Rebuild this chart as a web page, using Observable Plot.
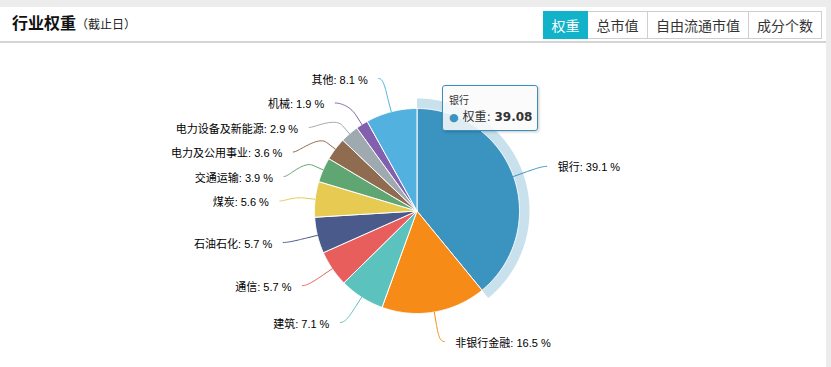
<!DOCTYPE html>
<html><head><meta charset="utf-8">
<script src="https://cdn.jsdelivr.net/npm/d3@7"></script>
<script src="https://cdn.jsdelivr.net/npm/@observablehq/plot@0.6"></script>
<style>
html,body{margin:0;padding:0;background:#ececec;width:831px;height:367px;overflow:hidden;font-family:"Noto Sans CJK SC",sans-serif}
#panel{position:absolute;left:0;top:7px;width:826px;height:360px;background:#fff}
#hdr{position:absolute;left:0;top:0;width:826px;height:34px;border-bottom:2px solid #d4d4d4}
#title{position:absolute;left:12px;top:1px;line-height:28px;white-space:nowrap;color:#111}
#title b{font-size:16px;font-weight:bold}
#title span{font-size:12px;color:#222}
#btns{position:absolute;left:543px;top:4px;display:flex;height:28px}
.btn{box-sizing:border-box;height:28px;line-height:26px;border:1px solid #cfcfcf;border-left:none;text-align:center;font-size:14px;color:#333;background:#fff}
.btn.on{background:#12b2c8;color:#fff;border-color:#12b2c8}
#chart{position:absolute;left:0;top:36px}
#tip{position:absolute;left:442px;top:78px;width:94px;height:44px;border:1px solid #3b8fbd;border-radius:3px;background:rgba(250,250,250,0.86);box-shadow:1px 1px 3px rgba(0,0,0,0.22);color:#333;font-family:"DejaVu Sans","Noto Sans CJK SC",sans-serif}
#tip .h{position:absolute;left:6px;top:8px;font-size:10px;line-height:14px}
#tip .b{position:absolute;left:6px;top:23px;font-size:12px;line-height:16px;white-space:nowrap}
#tip .b i{font-style:normal;font-size:11px;margin-right:4px}
.pl tspan.nm{font-weight:bold}
</style></head>
<body>
<div id="panel">
  <div id="hdr">
    <div id="title"><b>行业权重</b><span>（截止日）</span></div>
    <div id="btns"></div>
  </div>
  <div id="chart"></div>
  <div id="tip"></div>
</div>
<script>
// ---- data ----
const names = ["银行","非银行金融","建筑","通信","石油石化","煤炭","交通运输","电力及公用事业","电力设备及新能源","机械","其他"];
const weights = [39.08,16.48,7.1,5.7,5.7,5.6,3.9,3.6,2.9,1.9,8.08];
const colors = ["#3b93bf","#f68b17","#5cc2bd","#e85e5c","#4a5a8a","#e6ca52","#60a673","#8f6b4f","#9eaab0","#8360ae","#52b1de"];
const seriesName = "权重";
const tabs = ["权重","总市值","自由流通市值","成分个数"];
const tabWidths = [45,60,101,73];
const hovered = "银行";

// ---- header ----
const btns = document.getElementById("btns");
tabs.forEach((t,i)=>{
  const d = document.createElement("div");
  d.className = "btn" + (i===0 ? " on" : "");
  d.style.width = tabWidths[i] + "px";
  if (i===0) d.style.borderLeft = "1px solid #12b2c8";
  d.textContent = t;
  btns.appendChild(d);
});

// ---- geometry ----
const W = 826, H = 324, cx = 416.5, cy = 167.5;
const r = 102.5, dist = 30, R = r + dist, slotH = 24.5, haloSize = 10;
const data = names.map((n,i)=>({name:n, value:weights[i], color:colors[i]}));
const total = d3.sum(weights);
const arcs = d3.pie().sort(null).value(d=>d.value).startAngle(0).endAngle(2*Math.PI)(data);
const pt = (a, rad) => [Math.sin(a)*rad, -Math.cos(a)*rad];

function arcPts(a0, a1, rad){
  const n = Math.max(2, Math.ceil((a1-a0)/(Math.PI/360)));
  const out = [];
  for (let k=0;k<=n;k++) out.push(pt(a0+(a1-a0)*k/n, rad));
  return out;
}

const sliceRows = [];
arcs.forEach(a=>{
  const ps = [[0,0], ...arcPts(a.startAngle, a.endAngle, r), [0,0]];
  ps.forEach(p=>sliceRows.push({name:a.data.name, x:p[0], y:p[1]}));
});

const haloRows = [];
arcs.filter(a=>a.data.name===hovered).forEach(a=>{
  const outer = arcPts(a.startAngle, a.endAngle, r+haloSize);
  const inner = arcPts(a.startAngle, a.endAngle, r).reverse();
  [...outer, ...inner, outer[0]].forEach(p=>haloRows.push({name:a.data.name, x:p[0], y:p[1]}));
});

// label placement (slot distribution, as the original chart library does)
const labels = arcs.map(a=>{
  const mid = (a.startAngle + a.endAngle)/2;
  const side = mid > Math.PI ? -1 : 1;
  const nat = pt(mid, R);
  return {name:a.data.name, mid, side, natY:nat[1], pct: a.data.value/total*100};
});
[-1,1].forEach(side=>{
  const pts = labels.filter(l=>l.side===side).sort((a,b)=>a.natY-b.natY);
  const slots = [];
  for (let p=-R; p<=R+1e-6; p+=slotH) slots.push(p);
  const sl = slots.length, n = pts.length;
  pts.forEach((l,j)=>{
    let best = 1e9, si = 0;
    slots.forEach((s,k)=>{ if (s!==null && Math.abs(s-l.natY)<best){best=Math.abs(s-l.natY); si=k;} });
    if (si < j && slots[j] !== null) si = j;
    else if (sl < n - j + si && slots[j] !== null) { si = sl - n + j; while (slots[si]===null) si++; }
    else { while (slots[si]===null) si++; }
    l.slot = si; l.y = slots[si]; slots[si] = null;
  });
  pts.forEach(l=>{
    if ((l.natY > l.y && slots[l.slot+1] !== null) || (l.natY < l.y && slots[l.slot-1] !== null)) l.y = l.natY;
    const yx = (Math.abs(l.y + R) < 1e-6 || Math.abs(l.y - R) < 1e-6) ? l.natY : l.y;
    const s = Math.max(-1, Math.min(1, yx / R));
    l.x = side * Math.cos(Math.asin(s)) * R;
  });
});

const connRows = [];
labels.forEach(l=>{
  const p4 = pt(l.mid, r), p2 = pt(l.mid, r+11), c2 = pt(l.mid, r+22);
  const P0 = [l.x + l.side*5, l.y], P1 = [l.x, l.y];
  for (let k=0;k<=24;k++){
    const t = k/24, u = 1-t;
    connRows.push({name:l.name,
      x: u*u*u*P0[0] + 3*u*u*t*P1[0] + 3*u*t*t*c2[0] + t*t*t*p2[0],
      y: u*u*u*P0[1] + 3*u*u*t*P1[1] + 3*u*t*t*c2[1] + t*t*t*p2[1]});
  }
  connRows.push({name:l.name, x:p4[0], y:p4[1]});
});
const fmt = d3.format(".1f");
const textRows = labels.map(l=>({name:l.name, x:l.x + l.side*16, y:l.y + 1.5,
  anchor: l.side<0 ? "end" : "start", label: l.name + ": " + fmt(l.pct) + " %"}));

const labelFont = "'Liberation Sans','Noto Sans CJK SC',sans-serif";
const chart = Plot.plot({
  width: W, height: H, margin: 0,
  x: {domain:[-cx, W-cx], range:[0,W], axis:null},
  y: {domain:[-cy, H-cy], range:[0,H], axis:null},
  color: {domain:names, range:colors},
  style: {background:"transparent", overflow:"visible"},
  marks: [
    Plot.line(haloRows, {x:"x", y:"y", z:"name", fill:"name", fillOpacity:0.28, stroke:"none"}),
    Plot.line(sliceRows, {x:"x", y:"y", z:"name", fill:"name", stroke:"#fff", strokeWidth:1, strokeLinejoin:"round"}),
    Plot.line(connRows, {x:"x", y:"y", z:"name", stroke:"name", strokeWidth:1}),
    Plot.text(textRows.filter(d=>d.anchor==="end"), {x:"x", y:"y", text:"label", textAnchor:"end", lineAnchor:"middle", fontSize:11, fill:"#000", fontFamily:labelFont, ariaLabel:"pie-labels"}),
    Plot.text(textRows.filter(d=>d.anchor==="start"), {x:"x", y:"y", text:"label", textAnchor:"start", lineAnchor:"middle", fontSize:11, fill:"#000", fontFamily:labelFont, ariaLabel:"pie-labels"})
  ]
});
document.getElementById("chart").appendChild(chart);

// bold the category name within each label
chart.querySelectorAll('g[aria-label="pie-labels"]').forEach(g=>g.classList.add("pl"));
chart.querySelectorAll('g[aria-label="pie-labels"] text').forEach(t=>{
  const s = t.textContent, i = s.indexOf(":");
  t.textContent = "";
  const a = document.createElementNS("http://www.w3.org/2000/svg","tspan");
  a.setAttribute("class","nm");
  a.setAttribute("style","font-weight:bold;font-family:'Noto Sans CJK SC',sans-serif;");
  a.textContent = s.slice(0,i);
  const b = document.createElementNS("http://www.w3.org/2000/svg","tspan");
  b.textContent = s.slice(i);
  t.appendChild(a); t.appendChild(b);
});

// tooltip for hovered slice
const hi = names.indexOf(hovered);
const tip = document.getElementById("tip");
tip.innerHTML = '<div class="h"></div><div class="b"><i>●</i><span class="n"></span>: <b class="v"></b></div>';
tip.querySelector(".h").textContent = hovered;
tip.querySelector("i").style.color = colors[hi];
tip.querySelector(".n").textContent = seriesName;
tip.querySelector(".v").textContent = d3.format(".2f")(weights[hi]);
</script>
</body></html>
